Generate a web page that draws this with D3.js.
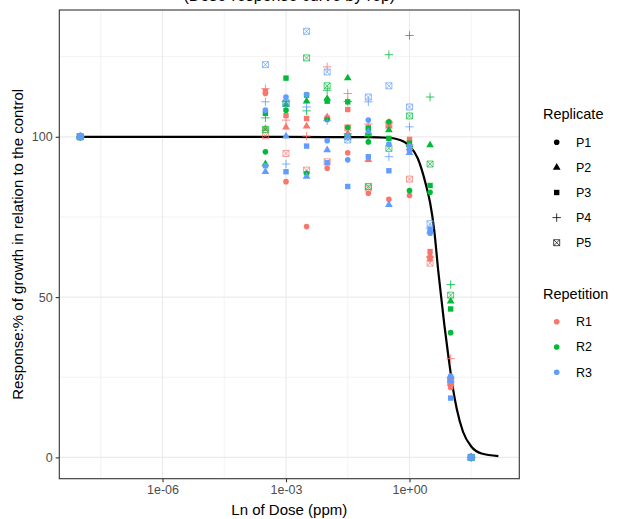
<!DOCTYPE html>
<html>
<head>
<meta charset="utf-8">
<script src="https://cdn.jsdelivr.net/npm/d3@7"></script>
<style>
  body { margin: 0; background: #fff; }
  text { font-family: "Liberation Sans", Arial, sans-serif; }
</style>
</head>
<body>
<svg width="619" height="519"></svg>
<script>
//doses in ppm, one per column of points
const doses = [1e-8, 3.16e-4, 1e-3, 3.16e-3, 1e-2, 3.16e-2, 0.1, 0.316, 1, 3.16, 10, 31.6];
const replicates = ["P1", "P2", "P3", "P4", "P5"];
const repetitions = ["R1", "R2", "R3"];
const repColors = ["#F8766D", "#00BA38", "#619CFF"];

//response per dose, columns are P1..P5
const responseR1 = [
  [100, 100, 100, 100, 100],
  [113.5, 102.5, 114.2, 115, 100.3],
  [86.0, 103, 106.6, 105.2, 94.8],
  [72.0, 103.3, 105.7, 100.2, 89.6],
  [90.2, 106.2, 105.8, 121.8, 92.2],
  [95.0, 101.0, 108.5, 113.5, 102.8],
  [82.4, 92.8, 103.0, 104.0, 84.0],
  [80.5, 103.3, 103.6, 104.5, 104.0],
  [81.7, 96.5, 99.2, 97.5, 86.8],
  [61.9, 63.0, 64.2, 62.5, 60.6],
  [21.8, 23.0, 24.5, 30.8, 23.7],
  [0, 0, 0, 0, 0]
];
const responseR2 = [
  [100, 100, 100, 100, 100],
  [95.3, 91.5, 107.3, 105.9, 102.3],
  [108.3, 110, 118.3, 111, 110.6],
  [88.6, 111.1, 113.0, 108.1, 124.6],
  [105.4, 111.9, 111.1, 114.5, 115.9],
  [102.9, 118.3, 110.9, 111.0, 100.0],
  [98.4, 101.0, 102.6, 100.0, 84.5],
  [104.7, 102.1, 99.5, 125.6, 96.4],
  [83.2, 97.5, 98.0, 131.6, 106.5],
  [82.7, 97.4, 84.8, 112.4, 91.5],
  [38.9, 48.7, 46.3, 53.9, 50.6],
  [0, 0, 0, 0, 0]
];
const responseR3 = [
  [100, 100, 100, 100, 100],
  [108.3, 89.1, 91.0, 110.9, 122.5],
  [112.4, 100.2, 89.1, 91.5, 110.4],
  [113.2, 87.6, 97.1, 109.3, 132.9],
  [98.8, 95.9, 91.9, 105.0, 120.2],
  [92.8, 100.2, 84.5, 101.0, 99.0],
  [105.2, 101.6, 93.8, 110.9, 112.4],
  [97.7, 78.8, 89.4, 93.8, 115.9],
  [97.1, 95.0, 96.0, 103.1, 109.3],
  [69.9, 70.5, 71.0, 71.5, 72.9],
  [25.4, 24.0, 18.5, 24.8, 24.3],
  [0, 0, 0, 0, 0]
];
const responses = [responseR1, responseR2, responseR3];

//fitted curve
const curveDose = [1e-8, 1e-4, 1e-2, 0.1, 0.316, 0.562, 1, 1.585, 2.512, 3.162, 3.981, 5.012, 5.888, 7.079, 8.913, 11.22, 14.13, 19.95, 31.62, 56.23, 144.5];
const curveResponse = [100, 100, 99.9, 99.9, 99.7, 99.1, 97.2, 93.3, 85.0, 79.5, 71.0, 58.0, 50.0, 41.0, 31.0, 22.0, 15.0, 8.0, 3.4, 1.2, 0.4];

const xBreaks = [1e-6, 1e-3, 1];
const xMinor = [Math.pow(10, -7.5), Math.pow(10, -4.5), Math.pow(10, -1.5), Math.pow(10, 1.5)];
const yBreaks = [0, 50, 100];
const yMinor = [25, 75, 125];

let svg = d3.select("svg");
let pLeft = 59.3, pRight = 519.3, pTop = 10, pBottom = 478.7;

//build point table
let points = [];
repetitions.forEach(function(r, ri) {
  doses.forEach(function(d, di) {
    replicates.forEach(function(p, pi) {
      points.push({ dose: d, resp: responses[ri][di][pi], rep: ri, pl: pi });
    });
  });
});

//scales with ggplot style 5% expansion
let lx = d3.extent(doses.concat(curveDose)).map(Math.log10);
let padX = (lx[1] - lx[0]) * 0.05;
let xScale = d3.scaleLog()
  .domain([Math.pow(10, lx[0] - padX), Math.pow(10, lx[1] + padX)])
  .range([pLeft, pRight]);
let ly = d3.extent(points.map(function(d) { return d.resp; }).concat(curveResponse));
let padY = (ly[1] - ly[0]) * 0.05;
let yScale = d3.scaleLinear()
  .domain([ly[0] - padY, ly[1] + padY])
  .range([pBottom, pTop]);

//shape paths, P1 circle, P2 triangle, P3 square, P4 plus, P5 crossed square
function shapePath(pi) {
  if (pi == 0) return d3.symbol().type(d3.symbolCircle).size(25)();
  if (pi == 1) return d3.symbol().type(d3.symbolTriangle).size(26)();
  if (pi == 2) return d3.symbol().type(d3.symbolSquare).size(29)();
  if (pi == 3) return "M-4.2,0L4.2,0M0,-4.2L0,4.2";
  return "M-3,-3L3,-3L3,3L-3,3ZM-3,-3L3,3M3,-3L-3,3";
}
function drawShape(sel, pi, color) {
  sel.attr("d", shapePath(pi));
  if (pi < 3) {
    sel.attr("fill", color).attr("stroke", "none");
  } else {
    sel.attr("fill", "none").attr("stroke", color).attr("stroke-width", pi == 3 ? 0.8 : 0.7);
  }
}

//panel grid
let grid = svg.append("g");
grid.selectAll(".ymin").data(yMinor).enter().append("line")
  .attr("x1", pLeft).attr("x2", pRight)
  .attr("y1", function(d) { return yScale(d); }).attr("y2", function(d) { return yScale(d); })
  .attr("stroke", "#ebebeb").attr("stroke-width", 0.6);
grid.selectAll(".xmin").data(xMinor).enter().append("line")
  .attr("y1", pTop).attr("y2", pBottom)
  .attr("x1", function(d) { return xScale(d); }).attr("x2", function(d) { return xScale(d); })
  .attr("stroke", "#ebebeb").attr("stroke-width", 0.6);
grid.selectAll(".ymaj").data(yBreaks).enter().append("line")
  .attr("x1", pLeft).attr("x2", pRight)
  .attr("y1", function(d) { return yScale(d); }).attr("y2", function(d) { return yScale(d); })
  .attr("stroke", "#ebebeb").attr("stroke-width", 1.2);
grid.selectAll(".xmaj").data(xBreaks).enter().append("line")
  .attr("y1", pTop).attr("y2", pBottom)
  .attr("x1", function(d) { return xScale(d); }).attr("x2", function(d) { return xScale(d); })
  .attr("stroke", "#ebebeb").attr("stroke-width", 1.2);

//fitted curve
let line = d3.line()
  .x(function(d, i) { return xScale(curveDose[i]); })
  .y(function(d) { return yScale(d); })
  .curve(d3.curveMonotoneX);
svg.append("path")
  .attr("d", line(curveResponse))
  .attr("fill", "none")
  .attr("stroke", "#000")
  .attr("stroke-width", 2.2);

//points
svg.append("g").selectAll("path").data(points).enter().append("path")
  .attr("transform", function(d) { return "translate(" + xScale(d.dose) + "," + yScale(d.resp) + ")"; })
  .each(function(d) { drawShape(d3.select(this), d.pl, repColors[d.rep]); });

//panel border
svg.append("rect")
  .attr("x", pLeft).attr("y", pTop)
  .attr("width", pRight - pLeft).attr("height", pBottom - pTop)
  .attr("fill", "none").attr("stroke", "#333").attr("stroke-width", 1.1);

//axes
let xAxis = svg.append("g")
  .attr("transform", "translate(0," + pBottom + ")")
  .call(d3.axisBottom(xScale).tickValues(xBreaks).tickSizeOuter(0).tickSize(3.6).tickPadding(3)
    .tickFormat(function(d) { return d3.format(".0e")(d).replace(/e([+-])(\d)$/, "e$10$2"); }));
let yAxis = svg.append("g")
  .attr("transform", "translate(" + pLeft + ",0)")
  .call(d3.axisLeft(yScale).tickValues(yBreaks).tickSizeOuter(0).tickSize(3.6).tickPadding(3));
[xAxis, yAxis].forEach(function(a) {
  a.select(".domain").remove();
  a.selectAll(".tick line").attr("stroke", "#333").attr("stroke-width", 1.1);
  a.selectAll(".tick text").attr("fill", "#4d4d4d").style("font-size", "12.5px")
    .style("font-family", "'Liberation Sans', Arial, sans-serif");
});

//titles
svg.append("text")
  .attr("x", (pLeft + pRight) / 2).attr("y", 1)
  .attr("text-anchor", "middle").style("font-size", "16px")
  .text("(Dose-response curve by rep)");
svg.append("text")
  .attr("x", (pLeft + pRight) / 2).attr("y", 515)
  .attr("text-anchor", "middle").style("font-size", "15px")
  .text("Ln of Dose (ppm)");
svg.append("text")
  .attr("transform", "translate(23," + (pTop + pBottom) / 2 + ") rotate(-90)")
  .attr("text-anchor", "middle").style("font-size", "15px")
  .text("Response:% of growth in relation to the control");

//legend Replicate
let leg = svg.append("g");
leg.append("text").attr("x", 543).attr("y", 119).style("font-size", "14.5px").text("Replicate");
replicates.forEach(function(p, i) {
  let y = 142.3 + i * 25.1;
  drawShape(leg.append("path").attr("transform", "translate(556.7," + y + ")"), i, "#000");
  leg.append("text").attr("x", 576).attr("y", y).attr("dy", "0.35em").style("font-size", "12.5px").text(p);
});
//legend Repetition
leg.append("text").attr("x", 543).attr("y", 299).style("font-size", "14.5px").text("Repetition");
repetitions.forEach(function(r, i) {
  let y = 321.7 + i * 25.3;
  drawShape(leg.append("path").attr("transform", "translate(556.7," + y + ")"), 0, repColors[i]);
  leg.append("text").attr("x", 576).attr("y", y).attr("dy", "0.35em").style("font-size", "12.5px").text(r);
});
</script>
</body>
</html>
